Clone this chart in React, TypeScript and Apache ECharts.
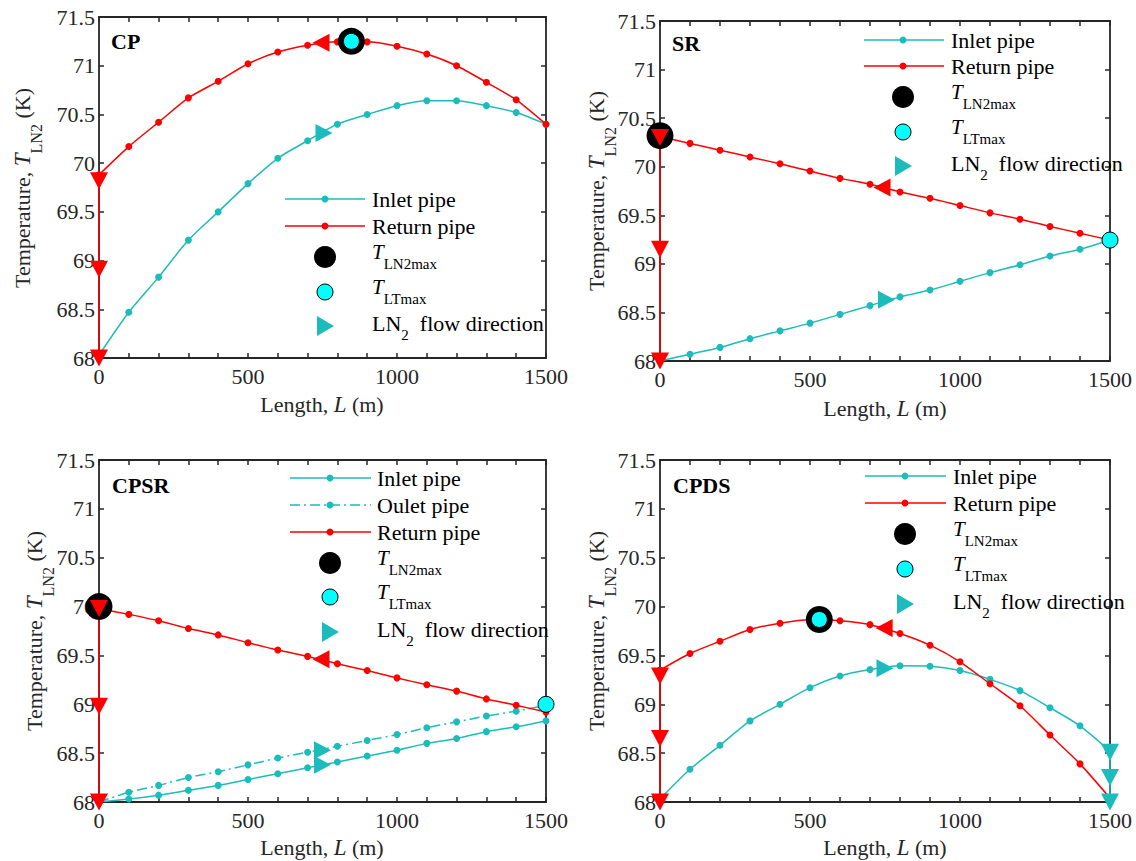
import React, { useEffect, useRef } from 'react';
import * as echarts from 'echarts';

// ---------------- data ----------------
const lengths = [0, 100, 200, 300, 400, 500, 600, 700, 800, 900, 1000, 1100, 1200, 1300, 1400, 1500];
const xTickLabels = [0, 500, 1000, 1500];

// CP
const cpInlet = [68.03, 68.47, 68.83, 69.21, 69.5, 69.79, 70.05, 70.23, 70.4, 70.5, 70.59, 70.64, 70.64, 70.59, 70.52, 70.4];
const cpReturn = [69.88, 70.17, 70.42, 70.67, 70.84, 71.02, 71.14, 71.21, 71.245, 71.245, 71.2, 71.12, 71.0, 70.83, 70.65, 70.4];
const cpLN2max = [847, 71.25];
const cpLTmax = [847, 71.25];
const cpReturnDrop = [[0, 69.88], [0, 68.0]];
const cpArrowsDown = [[0, 69.82], [0, 68.91], [0, 68.0]];
const cpArrowsLeft = [[745, 71.235]];
const cpArrowsRight = [[755, 70.31]];

// SR
const srInlet = [68.0, 68.07, 68.14, 68.23, 68.31, 68.39, 68.48, 68.57, 68.66, 68.73, 68.82, 68.91, 68.99, 69.08, 69.15, 69.245];
const srReturn = [70.31, 70.24, 70.17, 70.1, 70.03, 69.955, 69.88, 69.82, 69.74, 69.675, 69.6, 69.525, 69.46, 69.385, 69.315, 69.245];
const srLN2max = [0, 70.32];
const srLTmax = [1500, 69.245];
const srReturnDrop = [[0, 70.31], [0, 68.0]];
const srArrowsDown = [[0, 70.3], [0, 69.15], [0, 68.0]];
const srArrowsLeft = [[740, 69.785]];
const srArrowsRight = [[755, 68.63]];

// CPSR
const cpsrInlet = [68.0, 68.03, 68.07, 68.12, 68.17, 68.23, 68.29, 68.35, 68.41, 68.47, 68.53, 68.6, 68.65, 68.72, 68.77, 68.83];
const cpsrOutlet = [68.0, 68.1, 68.17, 68.25, 68.31, 68.38, 68.45, 68.51, 68.57, 68.63, 68.69, 68.76, 68.82, 68.88, 68.93, 68.99];
const cpsrReturn = [69.98, 69.92, 69.855, 69.775, 69.71, 69.63, 69.555, 69.49, 69.415, 69.345, 69.27, 69.2, 69.135, 69.055, 68.99, 68.92];
const cpsrLN2max = [0, 70.0];
const cpsrLTmax = [1500, 69.0];
const cpsrReturnDrop = [[0, 69.98], [0, 68.0]];
const cpsrArrowsDown = [[0, 69.98], [0, 68.98], [0, 68.0]];
const cpsrArrowsLeft = [[745, 69.46]];
const cpsrArrowsRight = [[750, 68.53], [750, 68.38]];

// CPDS
const cpdsInlet = [68.03, 68.335, 68.58, 68.83, 69.0, 69.17, 69.29, 69.355, 69.395, 69.39, 69.345, 69.255, 69.14, 68.965, 68.78, 68.52];
const cpdsReturn = [69.35, 69.52, 69.645, 69.765, 69.83, 69.865, 69.855, 69.815, 69.725, 69.605, 69.435, 69.21, 68.985, 68.685, 68.39, 68.04];
const cpdsLN2max = [531, 69.868];
const cpdsLTmax = [531, 69.868];
const cpdsReturnDrop = [[0, 69.35], [0, 68.0]];
const cpdsInletDrop = [[1500, 68.52], [1500, 68.0]];
const cpdsArrowsDown = [[0, 69.29], [0, 68.65], [0, 68.0]];
const cpdsArrowsDownInlet = [[1500, 68.51], [1500, 68.25], [1500, 68.0]];
const cpdsArrowsLeft = [[747, 69.78]];
const cpdsArrowsRight = [[750, 69.37]];

// ---------------- styling ----------------
const FONT = 'Liberation Serif';
const FS = 22;
const AXIS = '#262626';
const TXT = '#000000';
const RED = '#FF0000';
const TEAL = '#1CBCBC';
const CYAN = '#00FFFF';

const grids = [
  { left: 99, top: 17, width: 447, height: 341 },
  { left: 660, top: 21, width: 450, height: 340 },
  { left: 99, top: 460, width: 447, height: 342 },
  { left: 660, top: 460, width: 450, height: 342 },
];

const pairs = (vals: number[]) => lengths.map((x, i) => [x, vals[i]]);

function lineSeries(g: number, vals: number[], color: string, dashed = false) {
  return {
    type: 'line', xAxisIndex: 2 * g, yAxisIndex: 2 * g, data: pairs(vals),
    symbol: 'circle', symbolSize: 7, showSymbol: true, showAllSymbol: true, smooth: 0.25,
    clip: false, silent: true,
    lineStyle: { color, width: 1.5, type: dashed ? [10, 4, 2, 4] : 'solid' },
    itemStyle: { color, opacity: 1 }, z: 3,
  };
}

function dropSeries(g: number, pts: number[][], color: string) {
  return {
    type: 'line', xAxisIndex: 2 * g, yAxisIndex: 2 * g, data: pts, symbol: 'none',
    clip: false, silent: true, lineStyle: { color, width: 1.5 }, z: 3,
  };
}

function pointSeries(g: number, pt: number[], kind: 'black' | 'cyan') {
  return {
    type: 'scatter', xAxisIndex: 2 * g, yAxisIndex: 2 * g, data: [pt], symbol: 'circle',
    symbolSize: kind === 'black' ? 27 : 16, clip: false, silent: true,
    itemStyle: kind === 'black'
      ? { color: '#000', opacity: 1 }
      : { color: CYAN, borderColor: '#000', borderWidth: 1, opacity: 1 },
    z: kind === 'black' ? 5 : 6,
  };
}

function arrowSeries(g: number, pts: number[][], color: string, rotate: number) {
  return {
    type: 'scatter', xAxisIndex: 2 * g, yAxisIndex: 2 * g, data: pts, symbol: 'triangle',
    symbolSize: [18, 17], symbolRotate: rotate, clip: false, silent: true,
    itemStyle: { color, opacity: 1 }, z: 7,
  };
}

function axesFor(g: number) {
  const lineStyle = { color: AXIS, width: 1.8 };
  const tick = { show: true, inside: true, length: 5, lineStyle: { color: AXIS, width: 1.5 } };
  const xBase = {
    type: 'value', gridIndex: g, min: 0, max: 1500, interval: 100,
    axisLine: { show: true, onZero: false, lineStyle }, axisTick: tick, splitLine: { show: false },
  };
  const yBase = {
    type: 'value', gridIndex: g, min: 68, max: 71.5, interval: 0.5,
    axisLine: { show: true, onZero: false, lineStyle }, axisTick: tick, splitLine: { show: false },
  };
  return {
    x: [
      {
        ...xBase, position: 'bottom',
        axisLabel: {
          color: AXIS, fontFamily: FONT, fontSize: FS, margin: 7,
          formatter: (v: number) => (xTickLabels.includes(v) ? String(v) : ''),
        },
      },
      { ...xBase, position: 'top', axisLabel: { show: false } },
    ],
    y: [
      { ...yBase, position: 'left', axisLabel: { color: AXIS, fontFamily: FONT, fontSize: FS, margin: 4 } },
      { ...yBase, position: 'right', axisLabel: { show: false } },
    ],
  };
}

// ---------------- text helpers ----------------
const legRich = {
  a: { fontFamily: FONT, fontSize: FS, color: TXT },
  i: { fontFamily: FONT, fontSize: 21, fontStyle: 'italic', color: TXT },
  s: { fontFamily: FONT, fontSize: 15, color: TXT, padding: [24, 0, 0, 0] },
};
const titleRich = {
  a: { fontFamily: FONT, fontSize: FS, color: AXIS },
  i: { fontFamily: FONT, fontSize: 23, fontStyle: 'italic', color: AXIS },
  s: { fontFamily: FONT, fontSize: 16, color: AXIS, padding: [28, 0, 0, 0] },
};

type Row = { kind: 'line' | 'black' | 'cyan' | 'tri'; color?: string; dashed?: boolean; label: string; y: number };

function legend(x1: number, x2: number, mx: number, tx: number, rows: Row[]) {
  const els: any[] = [];
  rows.forEach((r) => {
    let ty = r.y;
    if (r.kind === 'line') {
      els.push({ type: 'line', shape: { x1, y1: r.y, x2, y2: r.y },
        style: { stroke: r.color, lineWidth: 1.5, lineDash: r.dashed ? [10, 4, 2, 4] : null }, z: 10 });
      els.push({ type: 'circle', shape: { cx: mx, cy: r.y, r: 3.5 }, style: { fill: r.color }, z: 10 });
    } else if (r.kind === 'black') {
      els.push({ type: 'circle', shape: { cx: mx, cy: r.y, r: 11 }, style: { fill: '#000' }, z: 10 });
      ty = r.y - 5;
    } else if (r.kind === 'cyan') {
      els.push({ type: 'circle', shape: { cx: mx, cy: r.y, r: 8 }, style: { fill: CYAN, stroke: '#000', lineWidth: 1 }, z: 10 });
      ty = r.y - 5;
    } else {
      els.push({ type: 'polygon', shape: { points: [[mx - 8, r.y - 10], [mx + 9, r.y], [mx - 8, r.y + 10]] },
        style: { fill: TEAL }, z: 10 });
      ty = r.y - 3;
    }
    els.push({ type: 'text', x: tx, y: ty, z: 10,
      style: { text: r.label, rich: legRich, align: 'left', verticalAlign: 'middle', fill: TXT, fontFamily: FONT, fontSize: FS } });
  });
  return els;
}

const L_INLET = '{a|Inlet pipe}';
const L_OUTLET = '{a|Oulet pipe}';
const L_RETURN = '{a|Return pipe}';
const L_LN2 = '{i|T}{s|LN2max}';
const L_LT = '{i|T}{s|LTmax}';
const L_FLOW = '{a|LN}{s|2}{a|  flow direction}';

function panelLabel(x: number, y: number, text: string) {
  return { type: 'text', x, y, z: 10,
    style: { text, fontFamily: FONT, fontSize: 22, fontWeight: 'bold', fill: TXT, align: 'left', verticalAlign: 'middle' } };
}

function yTitle(x: number, y: number) {
  return { type: 'text', x, y, rotation: Math.PI / 2, z: 10,
    style: { text: '{a|Temperature, }{i|T}{s|LN2}{a| (K)}', rich: titleRich, fontFamily: FONT, fontSize: FS,
      fill: AXIS, align: 'center', verticalAlign: 'middle' } };
}

function xTitle(x: number, y: number) {
  return { type: 'text', x, y, z: 10,
    style: { text: '{a|Length, }{i|L}{a| (m)}', rich: titleRich, fontFamily: FONT, fontSize: FS, fill: AXIS,
      align: 'center', verticalAlign: 'middle' } };
}

export default function App() {
  const ref = useRef<HTMLDivElement>(null);

  useEffect(() => {
    if (!ref.current) return;
    const chart = echarts.init(ref.current, undefined, { renderer: 'svg' });

    const xAxis: any[] = [];
    const yAxis: any[] = [];
    for (let g = 0; g < 4; g++) {
      const a = axesFor(g);
      xAxis.push(...a.x);
      yAxis.push(...a.y);
    }

    const series: any[] = [
      dropSeries(0, cpReturnDrop, RED), lineSeries(0, cpInlet, TEAL), lineSeries(0, cpReturn, RED),
      pointSeries(0, cpLN2max, 'black'), pointSeries(0, cpLTmax, 'cyan'),
      arrowSeries(0, cpArrowsDown, RED, 180), arrowSeries(0, cpArrowsLeft, RED, 90), arrowSeries(0, cpArrowsRight, TEAL, -90),
      dropSeries(1, srReturnDrop, RED), lineSeries(1, srInlet, TEAL), lineSeries(1, srReturn, RED),
      pointSeries(1, srLN2max, 'black'), pointSeries(1, srLTmax, 'cyan'),
      arrowSeries(1, srArrowsDown, RED, 180), arrowSeries(1, srArrowsLeft, RED, 90), arrowSeries(1, srArrowsRight, TEAL, -90),
      dropSeries(2, cpsrReturnDrop, RED), lineSeries(2, cpsrInlet, TEAL), lineSeries(2, cpsrOutlet, TEAL, true), lineSeries(2, cpsrReturn, RED),
      pointSeries(2, cpsrLN2max, 'black'), pointSeries(2, cpsrLTmax, 'cyan'),
      arrowSeries(2, cpsrArrowsDown, RED, 180), arrowSeries(2, cpsrArrowsLeft, RED, 90), arrowSeries(2, cpsrArrowsRight, TEAL, -90),
      dropSeries(3, cpdsReturnDrop, RED), dropSeries(3, cpdsInletDrop, TEAL), lineSeries(3, cpdsInlet, TEAL), lineSeries(3, cpdsReturn, RED),
      pointSeries(3, cpdsLN2max, 'black'), pointSeries(3, cpdsLTmax, 'cyan'),
      arrowSeries(3, cpdsArrowsDown, RED, 180), arrowSeries(3, cpdsArrowsDownInlet, TEAL, 180),
      arrowSeries(3, cpdsArrowsLeft, RED, 90), arrowSeries(3, cpdsArrowsRight, TEAL, -90),
    ];

    const graphic: any[] = [
      panelLabel(111, 41, 'CP'), panelLabel(672, 43, 'SR'), panelLabel(112, 485, 'CPSR'), panelLabel(673, 485, 'CPDS'),
      yTitle(22, 188), yTitle(596, 191), yTitle(34, 631), yTitle(596, 631),
      xTitle(322, 404), xTitle(885, 408), xTitle(322, 847), xTitle(885, 847),
      ...legend(285, 365, 325, 372, [
        { kind: 'line', color: TEAL, label: L_INLET, y: 199 },
        { kind: 'line', color: RED, label: L_RETURN, y: 226 },
        { kind: 'black', label: L_LN2, y: 257 },
        { kind: 'cyan', label: L_LT, y: 292 },
        { kind: 'tri', label: L_FLOW, y: 326 },
      ]),
      ...legend(864, 944, 903, 951, [
        { kind: 'line', color: TEAL, label: L_INLET, y: 40 },
        { kind: 'line', color: RED, label: L_RETURN, y: 66 },
        { kind: 'black', label: L_LN2, y: 97 },
        { kind: 'cyan', label: L_LT, y: 132 },
        { kind: 'tri', label: L_FLOW, y: 166 },
      ]),
      ...legend(290, 371, 330, 377, [
        { kind: 'line', color: TEAL, label: L_INLET, y: 478 },
        { kind: 'line', color: TEAL, dashed: true, label: L_OUTLET, y: 505 },
        { kind: 'line', color: RED, label: L_RETURN, y: 532 },
        { kind: 'black', label: L_LN2, y: 563 },
        { kind: 'cyan', label: L_LT, y: 597 },
        { kind: 'tri', label: L_FLOW, y: 632 },
      ]),
      ...legend(865, 946, 905, 953, [
        { kind: 'line', color: TEAL, label: L_INLET, y: 476 },
        { kind: 'line', color: RED, label: L_RETURN, y: 503 },
        { kind: 'black', label: L_LN2, y: 534 },
        { kind: 'cyan', label: L_LT, y: 569 },
        { kind: 'tri', label: L_FLOW, y: 604 },
      ]),
    ];

    chart.setOption({
      animation: false,
      backgroundColor: '#ffffff',
      grid: grids.map((g) => ({ ...g, containLabel: false })),
      xAxis, yAxis, series, graphic,
    });

    return () => chart.dispose();
  }, []);

  return <div ref={ref} style={{ position: 'absolute', left: 0, top: 0, width: 1136, height: 861, background: '#fff' }} />;
}
